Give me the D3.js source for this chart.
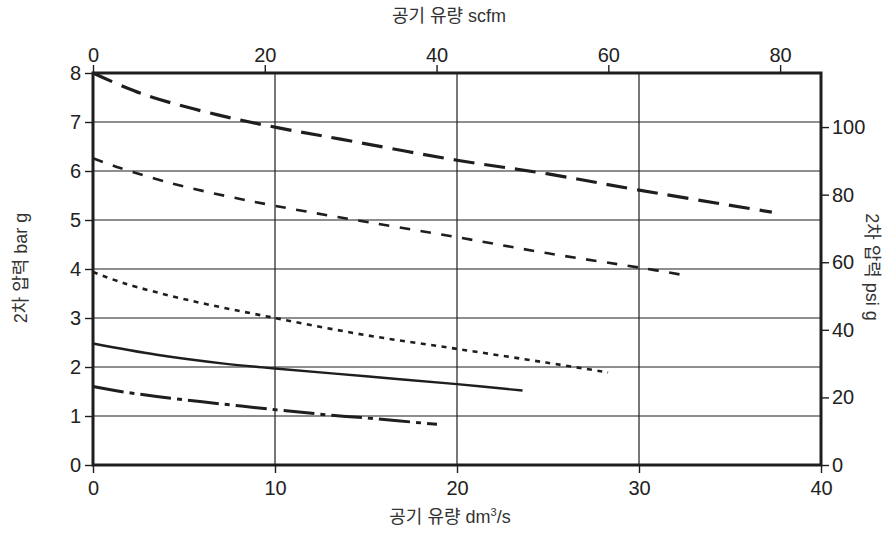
<!DOCTYPE html>
<html>
<head>
<meta charset="utf-8">
<script src="https://cdn.jsdelivr.net/npm/d3@7"></script>
<style>
  html, body { margin: 0; padding: 0; background: #fff; }
  svg { display: block; }
  text { font-family: "Liberation Sans", Arial, "Noto Sans CJK KR", sans-serif; }
</style>
</head>
<body>
<svg id="chart" width="894" height="539"></svg>
<script>
// ---- data (x: air flow dm3/s, y: secondary pressure bar g) ----
const xTicks = [0, 10, 20, 30, 40];
const yTicks = [0, 1, 2, 3, 4, 5, 6, 7, 8];
const scfmTicks = [0, 20, 40, 60, 80];
const psiTicks = [0, 20, 40, 60, 80, 100];

const longDashX = [0, 1.7, 3.3, 6.8, 10.2, 13.6, 20, 25, 30, 37.3];
const longDashY = [8.0, 7.72, 7.5, 7.15, 6.88, 6.65, 6.22, 5.94, 5.61, 5.16];

const medDashX = [0, 1.5, 4.4, 7.3, 10, 13.6, 20, 25, 30, 32.7];
const medDashY = [6.26, 6.06, 5.74, 5.49, 5.29, 5.05, 4.65, 4.32, 4.03, 3.86];

const dottedX = [0, 1.7, 5.3, 10, 15, 20, 24.9, 28.3];
const dottedY = [3.94, 3.71, 3.36, 3.0, 2.65, 2.37, 2.09, 1.89];

const solidX = [0, 3.5, 7.2, 10, 15, 20, 23.6];
const solidY = [2.48, 2.25, 2.07, 1.97, 1.81, 1.65, 1.52];

const dashDotX = [0, 1.7, 3.5, 6, 10, 13, 15, 18.9];
const dashDotY = [1.6, 1.49, 1.40, 1.29, 1.13, 1.02, 0.96, 0.83];

const DM3S_TO_SCFM = 2.119;
const BAR_TO_PSI = 14.5;

// ---- layout ----
const svg = d3.select("#chart");
const L = 93, R = 821, T = 73, B = 465;

const x = d3.scaleLinear().domain([0, 40]).range([L, R]);
const y = d3.scaleLinear().domain([0, 8]).range([B, T]);
const xTop = d3.scaleLinear().domain([0, 40 * DM3S_TO_SCFM]).range([L, R]);
const yRight = d3.scaleLinear().domain([0, 8 * BAR_TO_PSI]).range([B, T]);

const ink = "#1e1e1e";

// gridlines
const grid = svg.append("g").attr("stroke", ink).attr("stroke-width", 1.2);
grid.selectAll("line.h").data(yTicks.filter(d => d > 0 && d < 8)).enter()
  .append("line").attr("x1", L).attr("x2", R)
  .attr("y1", d => y(d)).attr("y2", d => y(d));
grid.selectAll("line.v").data(xTicks.filter(d => d > 0 && d < 40)).enter()
  .append("line").attr("y1", T).attr("y2", B)
  .attr("x1", d => x(d)).attr("x2", d => x(d));

// axes
function styleAxis(g) {
  g.select(".domain").remove();
  g.selectAll(".tick line").attr("stroke", ink).attr("stroke-width", 1.4);
  g.selectAll(".tick text").attr("fill", "#222").style("font-size", "20px")
    .style("font-family", '"Liberation Sans", Arial, sans-serif');
}
svg.append("g").attr("transform", `translate(0,${B})`)
  .call(d3.axisBottom(x).tickValues(xTicks).tickSize(8).tickPadding(8).tickFormat(d3.format("d")))
  .call(styleAxis);
svg.append("g").attr("transform", `translate(${L},0)`)
  .call(d3.axisLeft(y).tickValues(yTicks).tickSize(8).tickPadding(4).tickFormat(d3.format("d")))
  .call(styleAxis);
svg.append("g").attr("transform", `translate(0,${T})`)
  .call(d3.axisTop(xTop).tickValues(scfmTicks).tickSize(8).tickPadding(3).tickFormat(d3.format("d")))
  .call(styleAxis);
svg.append("g").attr("transform", `translate(${R},0)`)
  .call(d3.axisRight(yRight).tickValues(psiTicks).tickSize(8).tickPadding(3).tickFormat(d3.format("d")))
  .call(styleAxis);

// curves
const line = d3.line().x(d => x(d[0])).y(d => y(d[1])).curve(d3.curveCatmullRom.alpha(0.5));
const series = [
  { xs: longDashX, ys: longDashY, dash: "21,10", w: 3.2 },
  { xs: medDashX, ys: medDashY, dash: "10.5,10.5", w: 2.6 },
  { xs: dottedX, ys: dottedY, dash: "5,5.5", w: 2.6 },
  { xs: solidX, ys: solidY, dash: null, w: 2.4 },
  { xs: dashDotX, ys: dashDotY, dash: "31,6,5,6", w: 3.0 }
];
series.forEach(s => {
  const pts = s.xs.map((v, i) => [v, s.ys[i]]);
  svg.append("path").datum(pts)
    .attr("d", line)
    .attr("fill", "none")
    .attr("stroke", ink)
    .attr("stroke-width", s.w)
    .attr("stroke-dasharray", s.dash)
    .attr("stroke-linecap", "butt");
});

// frame
svg.append("rect").attr("x", L).attr("y", T).attr("width", R - L).attr("height", B - T)
  .attr("fill", "none").attr("stroke", ink).attr("stroke-width", 3);

// titles
const titleColor = "#333";
svg.append("text").attr("x", 449).attr("y", 22).attr("text-anchor", "middle")
  .attr("fill", titleColor).style("font-size", "18px").text("공기 유량 scfm");
const bt = svg.append("text").attr("x", 450).attr("y", 523).attr("text-anchor", "middle")
  .attr("fill", titleColor).style("font-size", "18px");
bt.append("tspan").text("공기 유량 dm");
bt.append("tspan").attr("dy", -7).style("font-size", "11px").text("3");
bt.append("tspan").attr("dy", 7).text("/s");
svg.append("text").attr("transform", "translate(27,268) rotate(-90)").attr("text-anchor", "middle")
  .attr("fill", titleColor).style("font-size", "18px").text("2차 압력 bar g");
svg.append("text").attr("transform", "translate(866,267) rotate(90)").attr("text-anchor", "middle")
  .attr("fill", titleColor).style("font-size", "18px").text("2차 압력 psi g");
</script>
</body>
</html>
